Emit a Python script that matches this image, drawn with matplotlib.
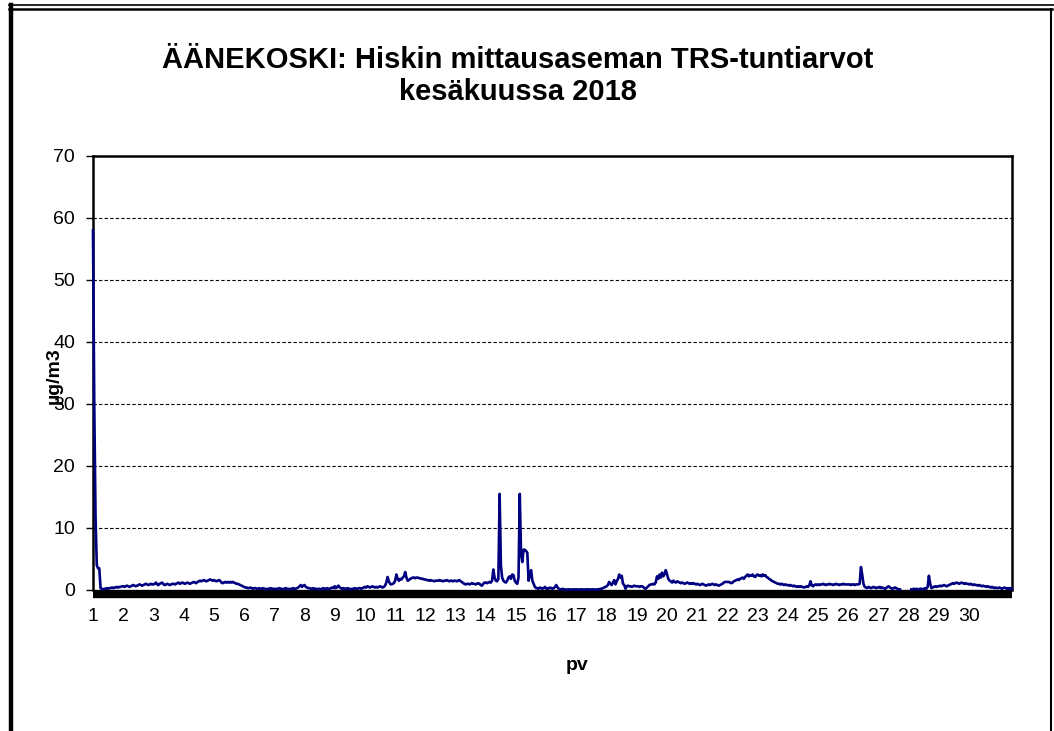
import numpy as np
import matplotlib
matplotlib.use("Agg")
import matplotlib.pyplot as plt
from matplotlib.lines import Line2D

plt.rcParams['font.family'] = ['Liberation Sans', 'DejaVu Sans']

nan = np.nan

# TRS hourly values (µg/m3), one row per day of June 2018
day01 = [58, 30, 12, 4, 3.5, 3.5, 0.3, 0.2, 0.1, 0.2, 0.2, 0.3, 0.2, 0.3, 0.3, 0.4, 0.3, 0.4, 0.4, 0.5, 0.4, 0.5, 0.5, 0.6]
day02 = [0.6, 0.5, 0.6, 0.7, 0.6, 0.5, 0.6, 0.7, 0.8, 0.7, 0.6, 0.7, 0.8, 0.9, 0.8, 0.7, 0.8, 0.9, 1.0, 0.9, 0.8, 0.9, 1.0, 0.9]
day03 = [0.9, 1.0, 1.2, 0.9, 0.8, 1.0, 1.1, 1.2, 0.9, 0.8, 0.9, 1.0, 0.9, 0.8, 0.9, 1.0, 1.0, 0.9, 1.0, 1.1, 1.2, 1.0, 1.1, 1.2]
day04 = [1.1, 1.0, 1.1, 1.2, 1.1, 1.0, 1.1, 1.2, 1.3, 1.2, 1.1, 1.3, 1.4, 1.5, 1.4, 1.5, 1.6, 1.5, 1.4, 1.5, 1.6, 1.7, 1.6, 1.5]
day05 = [1.6, 1.5, 1.4, 1.5, 1.6, 1.5, 1.2, 1.1, 1.2, 1.3, 1.2, 1.3, 1.2, 1.3, 1.2, 1.3, 1.2, 1.1, 1.0, 1.0, 0.9, 0.8, 0.7, 0.6]
day06 = [0.5, 0.4, 0.4, 0.3, 0.3, 0.4, 0.3, 0.2, 0.3, 0.3, 0.2, 0.2, 0.3, 0.2, 0.2, 0.3, 0.2, 0.2, 0.1, 0.2, 0.2, 0.3, 0.2, 0.2]
day07 = [0.2, 0.1, 0.2, 0.2, 0.3, 0.2, 0.2, 0.1, 0.2, 0.3, 0.2, 0.2, 0.1, 0.2, 0.2, 0.3, 0.2, 0.2, 0.3, 0.4, 0.6, 0.8, 0.5, 0.7]
day08 = [0.8, 0.5, 0.4, 0.3, 0.3, 0.2, 0.2, 0.3, 0.2, 0.2, 0.1, 0.2, 0.2, 0.1, 0.2, 0.3, 0.2, 0.2, 0.3, 0.2, 0.2, 0.3, 0.4, 0.3]
day09 = [0.6, 0.3, 0.5, 0.7, 0.4, 0.3, 0.2, 0.3, 0.2, 0.2, 0.3, 0.2, 0.2, 0.1, 0.2, 0.2, 0.3, 0.2, 0.2, 0.3, 0.3, 0.2, 0.3, 0.4]
day10 = [0.5, 0.4, 0.6, 0.5, 0.4, 0.5, 0.6, 0.5, 0.4, 0.5, 0.4, 0.5, 0.6, 0.5, 0.4, 0.5, 0.7, 1.2, 2.1, 1.4, 1.0, 0.9, 1.0, 1.1]
day11 = [1.5, 2.5, 1.8, 1.5, 1.8, 1.7, 2.0, 2.2, 2.9, 2.0, 1.5, 1.6, 1.8, 1.9, 2.0, 2.0, 1.9, 2.0, 2.0, 1.9, 1.9, 1.8, 1.8, 1.7]
day12 = [1.7, 1.6, 1.6, 1.5, 1.6, 1.5, 1.5, 1.4, 1.5, 1.5, 1.5, 1.6, 1.5, 1.5, 1.4, 1.5, 1.5, 1.6, 1.5, 1.4, 1.5, 1.5, 1.4, 1.5]
day13 = [1.5, 1.4, 1.5, 1.6, 1.4, 1.3, 1.1, 1.0, 0.9, 1.0, 1.0, 0.9, 1.0, 1.1, 1.0, 1.0, 0.9, 1.0, 1.1, 1.0, 0.8, 0.7, 1.0, 1.2]
day14 = [1.2, 1.1, 1.2, 1.3, 1.2, 1.5, 3.3, 2.0, 1.5, 1.4, 1.8, 15.5, 4.0, 2.0, 1.5, 1.3, 1.2, 1.5, 2.0, 2.2, 1.8, 2.5, 2.4, 1.5]
day15 = [1.2, 1.0, 2.0, 15.5, 6.0, 4.5, 6.5, 6.5, 6.3, 6.0, 1.5, 2.5, 3.2, 1.5, 1.0, 0.5, 0.3, 0.3, 0.2, 0.4, 0.3, 0.2, 0.3, 0.5]
day16 = [0.2, 0.3, 0.2, 0.4, 0.3, 0.2, 0.3, 0.5, 0.8, 0.4, 0.2, 0.1, 0.1, 0.2, 0.1, 0.1, 0.0, 0.1, 0.1, 0.1, 0.0, 0.1, 0.1, 0.1]
day17 = [0.1, 0.1, 0.0, 0.1, 0.1, 0.1, 0.0, 0.1, 0.1, 0.1, 0.1, 0.0, 0.1, 0.1, 0.1, 0.0, 0.1, 0.1, 0.1, 0.2, 0.2, 0.3, 0.4, 0.5]
day18 = [0.6, 0.8, 1.3, 1.0, 0.8, 1.2, 1.6, 0.9, 1.4, 1.8, 2.5, 2.0, 2.3, 1.0, 0.8, 0.2, 0.6, 0.7, 0.6, 0.6, 0.5, 0.6, 0.7, 0.6]
day19 = [0.6, 0.6, 0.5, 0.6, 0.6, 0.5, 0.3, 0.2, 0.4, 0.6, 0.8, 0.9, 0.9, 1.0, 0.9, 1.2, 2.2, 1.8, 2.5, 2.0, 2.8, 2.2, 2.6, 3.2]
day20 = [2.5, 1.8, 1.5, 1.4, 1.2, 1.5, 1.3, 1.2, 1.4, 1.3, 1.2, 1.1, 1.2, 1.1, 1.0, 1.1, 1.2, 1.1, 1.0, 1.1, 1.0, 1.1, 1.0, 0.9]
day21 = [1.0, 0.9, 0.8, 0.9, 1.0, 0.9, 0.8, 0.7, 0.8, 0.9, 0.8, 0.9, 1.0, 0.9, 0.8, 0.9, 0.8, 0.7, 0.8, 0.9, 1.0, 1.2, 1.3, 1.3]
day22 = [1.3, 1.3, 1.2, 1.1, 1.2, 1.4, 1.5, 1.6, 1.7, 1.6, 1.8, 1.9, 2.0, 1.8, 2.1, 2.3, 2.5, 2.2, 2.4, 2.3, 2.5, 2.2, 2.1, 2.4]
day23 = [2.5, 2.3, 2.4, 2.2, 2.5, 2.3, 2.4, 2.1, 2.0, 1.8, 1.7, 1.5, 1.4, 1.3, 1.2, 1.1, 1.0, 1.0, 0.9, 1.0, 0.9, 0.8, 0.9, 0.8]
day24 = [0.8, 0.7, 0.8, 0.7, 0.6, 0.7, 0.6, 0.5, 0.6, 0.5, 0.6, 0.5, 0.5, 0.4, 0.5, 0.6, 0.5, 0.8, 1.4, 0.7, 0.6, 0.8, 0.9, 0.8]
day25 = [0.9, 0.8, 0.9, 0.9, 1.0, 0.9, 0.8, 0.9, 0.9, 1.0, 0.9, 0.9, 0.8, 0.9, 1.0, 0.9, 0.9, 0.8, 0.9, 0.9, 1.0, 0.9, 0.9, 0.9]
day26 = [0.9, 0.9, 0.8, 0.9, 0.9, 0.8, 0.9, 0.9, 0.9, 1.0, 3.7, 2.5, 1.0, 0.5, 0.4, 0.3, 0.5, 0.4, 0.3, 0.4, 0.5, 0.4, 0.3, 0.4]
day27 = [0.4, 0.5, 0.3, 0.4, 0.3, 0.2, 0.3, 0.5, 0.6, 0.4, 0.3, 0.2, 0.3, 0.4, 0.3, 0.2, 0.1, 0.1, nan, nan, nan, nan, nan, nan]
day28 = [nan, nan, 0.1, 0.1, 0.2, 0.1, 0.2, 0.1, 0.1, 0.2, 0.2, 0.1, 0.2, 0.3, 0.2, 0.5, 2.3, 1.0, 0.3, 0.4, 0.5, 0.6, 0.5, 0.6]
day29 = [0.6, 0.7, 0.6, 0.7, 0.8, 0.7, 0.6, 0.7, 0.8, 0.9, 1.0, 1.1, 1.0, 1.1, 1.2, 1.1, 1.0, 1.1, 1.2, 1.1, 1.0, 1.1, 1.0, 1.0]
day30 = [0.9, 1.0, 0.9, 0.8, 0.9, 0.8, 0.8, 0.7, 0.8, 0.7, 0.6, 0.7, 0.6, 0.6, 0.5, 0.6, 0.5, 0.4, 0.5, 0.4, 0.3, 0.4, 0.3, 0.3]
tail = [0.4, 0.3, 0.2, 0.3, 0.4, 0.3, 0.2, 0.3, 0.2, 0.3, 0.2]

days = [day01, day02, day03, day04, day05, day06, day07, day08, day09, day10,
        day11, day12, day13, day14, day15, day16, day17, day18, day19, day20,
        day21, day22, day23, day24, day25, day26, day27, day28, day29, day30]
trs = np.array(sum(days, []) + tail, dtype=float)
hours = np.arange(len(trs))
day_labels = [str(d) for d in range(1, 31)]

fig = plt.figure(figsize=(10.54, 7.31), dpi=100)
ax = fig.add_axes([93 / 1054, 1 - 590 / 731, (1012 - 93) / 1054, (590 - 156) / 731])

ax.plot(hours, trs, color='#000080', lw=1.9, zorder=3, clip_on=False)

ax.set_yticks(range(0, 71, 10))
ax.set_xticks([24 * i for i in range(30)])
ax.set_xticklabels(day_labels)
ax.set_ylim(0, 70)
ax.set_xlim(0, len(trs) - 1)
for v in range(10, 70, 10):
    ax.axhline(v, color='black', lw=0.8, ls=(0, (3, 2)), zorder=1)

for s in ['left', 'right', 'top']:
    ax.spines[s].set_linewidth(1.8)
ax.spines['bottom'].set_linewidth(6)
ax.spines['bottom'].set_position(('outward', 3))
ax.spines['bottom'].set_capstyle('butt')
ax.tick_params(axis='x', length=0, pad=10, labelsize=14)
ax.tick_params(axis='y', direction='out', length=5, width=1, pad=8, labelsize=14)

fig.text(0.491, 1 - 76 / 731, "ÄÄNEKOSKI: Hiskin mittausaseman TRS-tuntiarvot\nkesäkuussa 2018",
         ha='center', va='center', fontsize=21, fontweight='bold', linespacing=1.15)
fig.text(54 / 1054, 1 - 376 / 731, "µg/m3", rotation=90, ha='center', va='center',
         fontsize=14, fontweight='bold')
fig.text(577 / 1054, 1 - 665 / 731, "pv", ha='center', va='center', fontsize=14, fontweight='bold')

# outer frame of the original picture
W, H = 1054, 731
fig.add_artist(Line2D([9 / W, 1], [1 - 5 / H, 1 - 5 / H], color='black', lw=1.2))
fig.add_artist(Line2D([9 / W, 1052 / W], [1 - 8.5 / H, 1 - 8.5 / H], color='black', lw=1.8))
fig.add_artist(Line2D([11 / W, 11 / W], [0, 1 - 5 / H], color='black', lw=3.2))
fig.add_artist(Line2D([1051 / W, 1051 / W], [0, 1 - 9 / H], color='black', lw=1.5))

fig.savefig('out.png', dpi=100)
